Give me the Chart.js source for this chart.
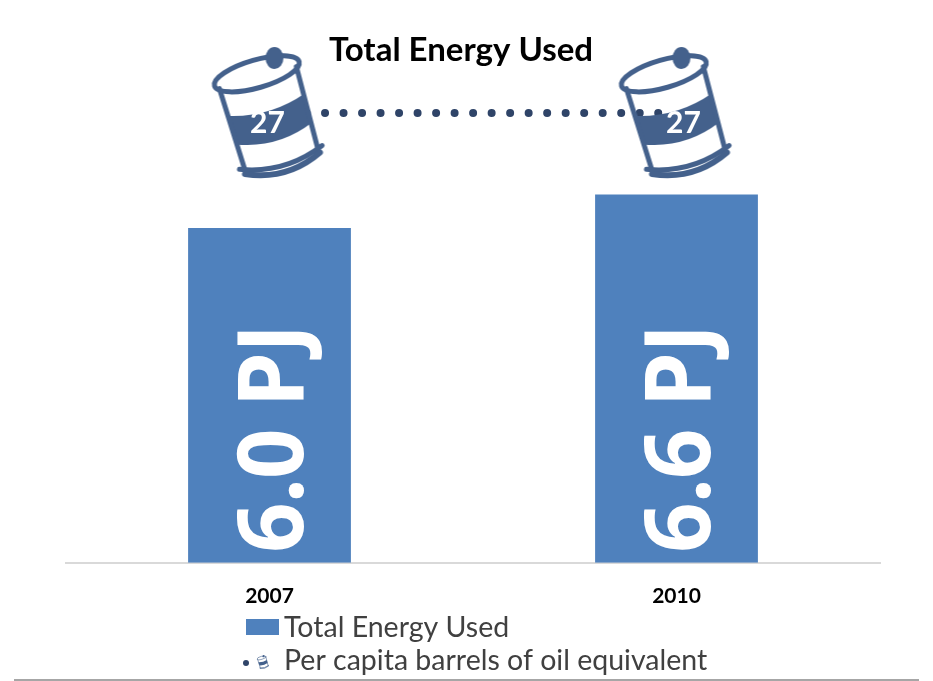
<!DOCTYPE html>
<html lang="en">
<head>
  <meta charset="UTF-8">
  <title>Total Energy Used</title>
  <script src="https://cdn.jsdelivr.net/npm/chart.js"></script>
  <style>
    html, body { margin: 0; padding: 0; background: #fff; overflow: hidden; }
    #wrap { position: relative; width: 933px; height: 681px; }
    #wrap::after { content: ""; position: absolute; left: 14px; right: 14px; bottom: 0; height: 2px; background: #a6a6a6; }
  </style>
</head>
<body>
  <div id="wrap"><canvas id="chart" width="933" height="681"></canvas></div>
  <script>
    // Values
    const years = ['2007', '2010'];
    const energyUsed = [6.0, 6.6];
    const barrelsPerCapita = [27, 27];
    const seriesNames = ['Total Energy Used', 'Per capita barrels of oil equivalent'];
    const chartTitle = 'Total Energy Used';

    const BAR_BLUE = '#4f81bd';
    const BARREL_BLUE = '#44618c';
    const DOT_BLUE = '#2f4468';

    // Barrel icon used as the line's point style
    function makeBarrel(size, filled) {
      const c = document.createElement('canvas');
      c.width = size;
      c.height = size;
      const g = c.getContext('2d');
      const s = size / 150;
      g.scale(s, s);
      g.translate(75, 80);
      g.fillStyle = BARREL_BLUE;
      g.strokeStyle = BARREL_BLUE;
      g.lineCap = 'round';

      g.save();
      g.rotate(-16 * Math.PI / 180);
      const body = new Path2D();
      body.moveTo(-40, -44);
      body.quadraticCurveTo(0, -28, 40, -44);
      body.lineTo(38, 44);
      body.quadraticCurveTo(0, 60, -38, 44);
      body.closePath();
      if (filled) {
        g.fillStyle = '#fff';
        g.fill(body);
        g.beginPath();
        g.ellipse(0, -46, 42, 13, 0, 0, Math.PI * 2);
        g.fill();
        g.fillStyle = BARREL_BLUE;
      }
      // band
      g.beginPath();
      g.moveTo(-41, -14);
      g.quadraticCurveTo(0, 0, 41, -14);
      g.lineTo(40, 16);
      g.quadraticCurveTo(0, 32, -40, 16);
      g.closePath();
      g.fill();
      // outline
      g.lineWidth = 5;
      g.beginPath();
      g.moveTo(-40, -42);
      g.lineTo(-38, 42);
      g.moveTo(40, -42);
      g.lineTo(38, 42);
      g.stroke();
      g.beginPath();
      g.ellipse(0, -46, 44, 14, 0, 0, Math.PI * 2);
      g.stroke();
      // bottom rim
      g.beginPath();
      g.moveTo(-43, 41);
      g.quadraticCurveTo(0, 58, 43, 41);
      g.stroke();
      g.lineWidth = 6;
      g.beginPath();
      g.moveTo(-39, 47);
      g.quadraticCurveTo(0, 65, 39, 47);
      g.stroke();
      g.restore();

      // cap on top of the lid
      g.beginPath();
      g.ellipse(5, -60, 9, 11, 0, 0, Math.PI * 2);
      g.fill();
      return c;
    }

    // Title, big rotated bar labels and the numbers on the barrels
    const valueLabels = {
      id: 'valueLabels',
      afterDraw(chart) {
        const ctx = chart.ctx;
        ctx.save();
        ctx.fillStyle = '#000';
        ctx.font = 'bold 33px Lato';
        ctx.textAlign = 'center';
        ctx.textBaseline = 'middle';
        ctx.fillText(chartTitle, 461, 50);
        ctx.restore();

        const base = chart.scales.y.getPixelForValue(0);
        chart.getDatasetMeta(0).data.forEach((bar, i) => {
          ctx.save();
          ctx.translate(bar.x + 7, base - 10);
          ctx.rotate(-Math.PI / 2);
          ctx.scale(0.96, 1);
          ctx.fillStyle = '#fff';
          ctx.font = 'bold 92px "Open Sans"';
          ctx.letterSpacing = '-1px';
          ctx.textAlign = 'left';
          ctx.textBaseline = 'middle';
          ctx.fillText(energyUsed[i].toFixed(1) + ' PJ', 0, 0);
          ctx.restore();
        });
        const shift = [-2, 7];
        chart.getDatasetMeta(1).data.forEach((pt, i) => {
          ctx.save();
          ctx.fillStyle = '#fff';
          ctx.font = 'bold 30px Lato';
          ctx.textAlign = 'center';
          ctx.textBaseline = 'middle';
          ctx.fillText(String(barrelsPerCapita[i]), pt.x + shift[i], pt.y + 10);
          ctx.restore();
        });
      }
    };

    // Two-row legend under the axis
    const stackedLegend = {
      id: 'stackedLegend',
      afterDraw(chart) {
        const ctx = chart.ctx;
        ctx.save();
        ctx.font = '28.5px Lato';
        ctx.fillStyle = '#404040';
        ctx.textAlign = 'left';
        ctx.textBaseline = 'middle';
        ctx.fillText(seriesNames[0], 284, 628);
        ctx.fillText(seriesNames[1], 284, 661);
        ctx.fillStyle = BAR_BLUE;
        ctx.fillRect(246, 619, 33, 16);
        ctx.fillStyle = DOT_BLUE;
        ctx.beginPath();
        ctx.arc(246, 663, 3, 0, Math.PI * 2);
        ctx.fill();
        ctx.drawImage(makeBarrel(16, true), 255, 654);
        ctx.restore();
      }
    };

    new Chart(document.getElementById('chart'), {
      type: 'bar',
      data: {
        labels: years,
        datasets: [
          {
            type: 'bar',
            label: seriesNames[0],
            data: energyUsed,
            backgroundColor: BAR_BLUE,
            barPercentage: 0.4,
            categoryPercentage: 1,
            yAxisID: 'y',
            order: 2
          },
          {
            type: 'line',
            label: seriesNames[1],
            data: barrelsPerCapita,
            yAxisID: 'y1',
            order: 1,
            clip: false,
            borderColor: DOT_BLUE,
            borderWidth: 8,
            borderDash: [0.01, 18.5],
            borderCapStyle: 'round',
            pointStyle: [makeBarrel(150, true), makeBarrel(150, false)],
            pointRadius: 75
          }
        ]
      },
      options: {
        responsive: false,
        animation: false,
        layout: { autoPadding: false, padding: { left: 66, right: 53, top: 70, bottom: 51 } },
        plugins: {
          legend: { display: false },
          tooltip: { enabled: false }
        },
        scales: {
          x: {
            grid: { display: false, drawTicks: false },
            border: { color: '#d9d9d9', width: 2 },
            ticks: { color: '#000', padding: 21, font: { family: 'Lato', size: 21, weight: 'bold' } }
          },
          y: { display: false, min: 0, max: 8.83 },
          y1: { display: false, min: 0, max: 29.58 }
        }
      },
      plugins: [valueLabels, stackedLegend]
    });
  </script>
</body>
</html>
